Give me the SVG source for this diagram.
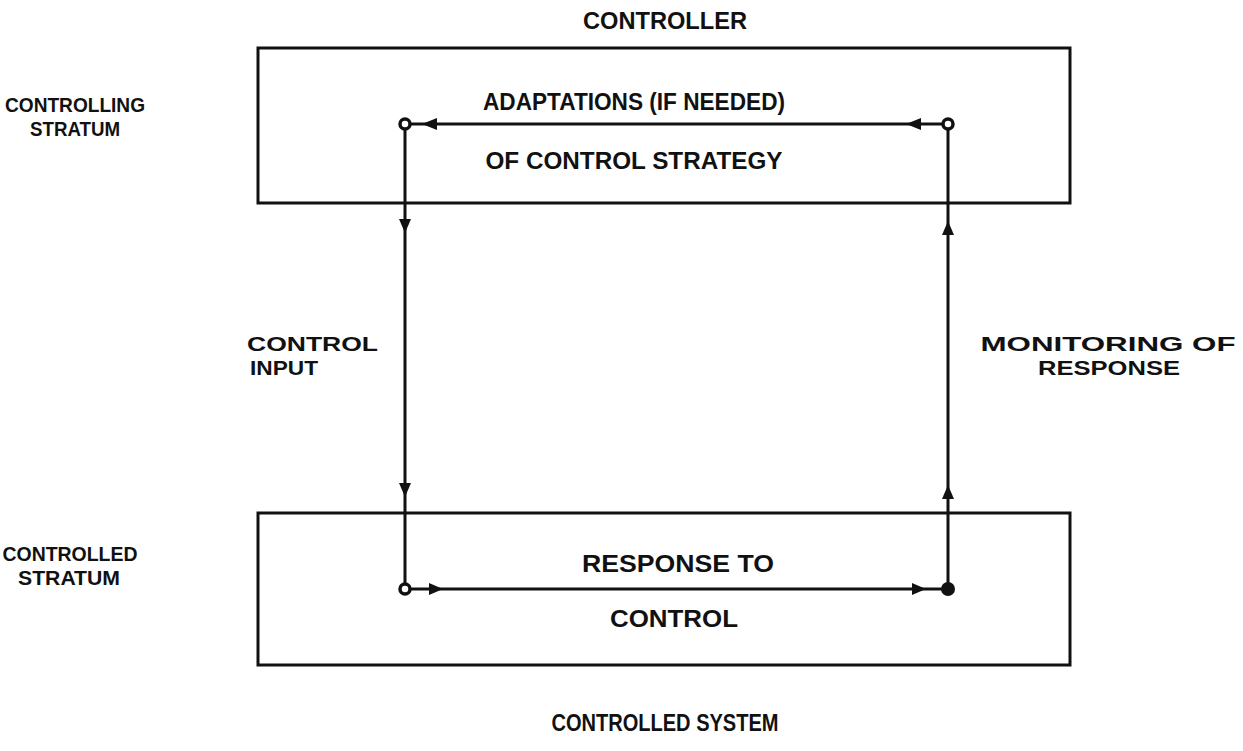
<svg xmlns="http://www.w3.org/2000/svg" width="1243" height="751" viewBox="0 0 1243 751">
<defs>
<style>
text{font-family:"Liberation Sans",Arial,sans-serif;font-size:24px;font-weight:bold;fill:#111}
text.two{font-size:21px}
.box{fill:none;stroke:#111;stroke-width:3}
.ln{fill:none;stroke:#111;stroke-width:3}
.ah{fill:#111}
.oc{fill:#fff;stroke:#111;stroke-width:3.5}
.fc{fill:#111}
</style>
</defs>
<rect width="1243" height="751" fill="#fff"/>
<g id="controller-label"><text x="665" y="29" text-anchor="middle" textLength="164" lengthAdjust="spacingAndGlyphs">CONTROLLER</text></g>
<g id="controlling-stratum"><text class="two" x="75" y="112" text-anchor="middle" textLength="140" lengthAdjust="spacingAndGlyphs">CONTROLLING</text><text class="two" x="75" y="136" text-anchor="middle" textLength="90" lengthAdjust="spacingAndGlyphs">STRATUM</text></g>
<g id="controller-box"><rect class="box" x="258" y="48" width="812" height="155"/>
<text x="634" y="110" text-anchor="middle" textLength="302" lengthAdjust="spacingAndGlyphs">ADAPTATIONS (IF NEEDED)</text>
<text x="634" y="169" text-anchor="middle" textLength="297" lengthAdjust="spacingAndGlyphs">OF CONTROL STRATEGY</text></g>
<g id="controlled-stratum"><text class="two" x="70" y="561" text-anchor="middle" textLength="135" lengthAdjust="spacingAndGlyphs">CONTROLLED</text><text class="two" x="69" y="585" text-anchor="middle" textLength="102" lengthAdjust="spacingAndGlyphs">STRATUM</text></g>
<g id="controlled-box"><rect class="box" x="258" y="513" width="812" height="152"/>
<text x="678" y="572" text-anchor="middle" textLength="192" lengthAdjust="spacingAndGlyphs">RESPONSE TO</text>
<text x="674" y="627" text-anchor="middle" textLength="128" lengthAdjust="spacingAndGlyphs">CONTROL</text></g>
<g id="control-input-label"><text class="two" x="247" y="351" textLength="131" lengthAdjust="spacingAndGlyphs">CONTROL</text><text class="two" x="250" y="375" textLength="68" lengthAdjust="spacingAndGlyphs">INPUT</text></g>
<g id="monitoring-label"><text class="two" x="1108" y="351" text-anchor="middle" textLength="255" lengthAdjust="spacingAndGlyphs">MONITORING OF</text><text class="two" x="1109" y="375" text-anchor="middle" textLength="142" lengthAdjust="spacingAndGlyphs">RESPONSE</text></g>
<g id="controlled-system-label"><text x="665" y="731" text-anchor="middle" textLength="227" lengthAdjust="spacingAndGlyphs">CONTROLLED SYSTEM</text></g>
<g id="connectors">
<path class="ln" d="M948 124 H405 V589 H948 V124"/>
<polygon class="ah" points="422,124 437,118 437,130"/>
<polygon class="ah" points="906,124 921,118 921,130"/>
<polygon class="ah" points="405,233 399,219 411,219"/>
<polygon class="ah" points="405,497 399,483 411,483"/>
<polygon class="ah" points="948,221 942,235 954,235"/>
<polygon class="ah" points="948,485 942,499 954,499"/>
<polygon class="ah" points="443,589 429,583 429,595"/>
<polygon class="ah" points="926,589 912,583 912,595"/>
</g>
<g id="junctions">
<circle class="oc" cx="405" cy="124" r="5"/>
<circle class="oc" cx="948" cy="124" r="5"/>
<circle class="oc" cx="405" cy="589" r="5"/>
<circle class="fc" cx="948" cy="589" r="7"/>
</g>
</svg>
